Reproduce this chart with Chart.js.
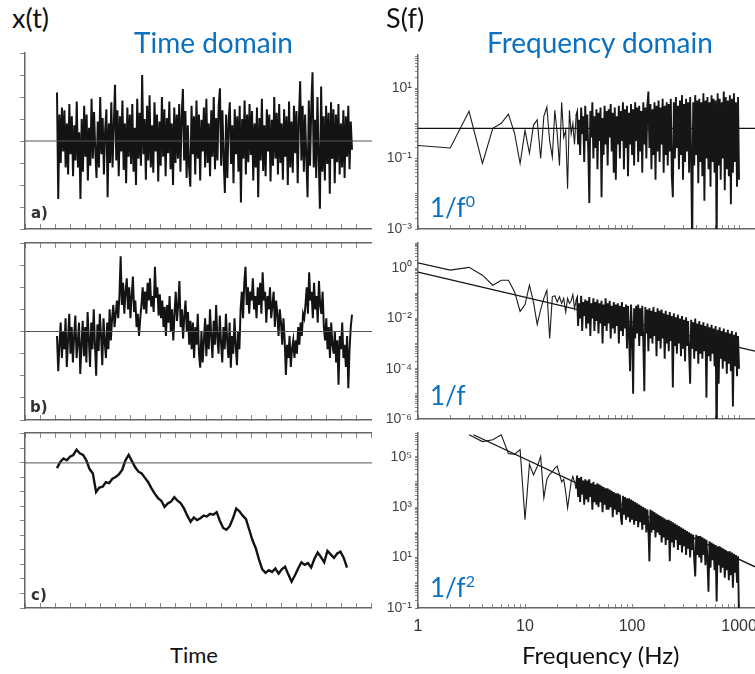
<!DOCTYPE html>
<html>
<head>
<meta charset="utf-8">
<script src="https://cdn.jsdelivr.net/npm/chart.js@4.4.0/dist/chart.umd.min.js"></script>
<style>
  body { margin: 0; width: 755px; height: 674px; overflow: hidden; background: #fff; position: relative; font-family: Lato, sans-serif; }
  canvas { position: absolute; }
  .t { position: absolute; white-space: nowrap; line-height: 1; }
  .blue { color: #0a70c0; }
  .sup { font-size: 16px; position: relative; top: -10px; }
  .pl { font-family: "DejaVu Sans"; font-weight: bold; font-size: 15px; color: #333; }
</style>
</head>
<body>

<canvas id="ta" width="372" height="185" style="left:0;top:50px"></canvas>
<canvas id="tb" width="372" height="187" style="left:0;top:239px"></canvas>
<canvas id="tc" width="372" height="185" style="left:0;top:429px"></canvas>
<canvas id="sa" width="380" height="194" style="left:375px;top:45px"></canvas>
<canvas id="sb" width="380" height="196" style="left:375px;top:233px"></canvas>
<canvas id="sc" width="380" height="215" style="left:375px;top:423px"></canvas>

<div class="t" style="left:12px;top:4px;font-size:27px;color:#111">x(t)</div>
<div class="t blue" style="left:134px;top:28px;font-size:28px">Time domain</div>
<div class="t" style="left:386px;top:4px;font-size:27px;color:#111">S(f)</div>
<div class="t blue" style="left:487px;top:28px;font-size:28px">Frequency domain</div>
<div class="t" style="left:170px;top:644px;font-size:22px;color:#111">Time</div>
<div class="t" style="left:522px;top:643px;font-size:24px;color:#111">Frequency (Hz)</div>
<div class="t blue" style="left:430px;top:194px;font-size:26px">1/f<span class="sup">0</span></div>
<div class="t blue" style="left:430px;top:382px;font-size:26px">1/f</div>
<div class="t blue" style="left:430px;top:574px;font-size:26px">1/f<span class="sup">2</span></div>
<div class="t pl" style="left:31px;top:206px">a)</div>
<div class="t pl" style="left:30px;top:400px">b)</div>
<div class="t pl" style="left:31px;top:588px">c)</div>

<script>
// ---- time series (arbitrary units, zero line = 0) ----
const seriesA = [
  55,-66,30,-25,38,-12,35,-30,20,-38,42,-15,28,-40,18,-22,45,-30,10,-66,
  25,-35,40,-18,30,-45,15,-28,48,-20,33,-10,-42,22,-30,50,-15,26,-38,12,
  36,-64,20,-25,44,-30,18,64,-22,35,-40,28,-12,46,-33,20,-48,38,-18,30,
  -26,42,-35,15,-50,48,-20,32,-28,75,-15,25,-44,40,-22,52,-30,18,-36,44,
  -12,30,-46,22,-28,50,-18,36,-40,26,-14,45,-32,20,-50,38,-25,30,-20,42,
  -35,28,59,-22,34,-42,18,-30,-52,40,-15,28,-38,46,-20,30,-45,24,-12,38,
  -30,48,-25,20,-40,35,-18,50,-32,26,-22,40,60,-28,35,-20,-59,30,-42,22,
  44,-26,18,-48,36,-15,28,-35,40,-70,25,-20,46,-38,30,-24,42,-16,34,-45,
  20,-30,38,-64,26,-22,48,-34,18,-40,36,-12,30,-46,24,-28,50,-20,32,-38,
  42,-25,20,-44,36,-18,28,-50,45,-30,22,-36,40,-14,34,-48,26,68,-22,40,
  -35,30,-20,-64,46,-28,38,78,-30,24,-42,50,-18,-77,62,-35,28,-45,40,-26,
  32,-60,44,-20,36,-48,30,-24,42,-38,20,-30,35,-42,28,-18,40,-32,22,-10
];
const seriesB = [
  -5,-45,-15,10,-30,0,-20,15,-40,-10,20,-25,5,-35,-5,18,-30,-12,10,-48,
  -15,12,-28,5,-35,22,-8,-40,10,-20,25,-15,-50,8,-22,20,-5,-38,15,-12,
  -30,10,-20,25,-10,15,30,5,20,35,15,40,
  85,30,55,20,45,60,25,50,15,40,62,22,35,5,20,-5,15,
  30,50,25,45,20,55,35,60,28,40,22,73,38,50,18,42,
  15,35,5,28,-5,30,10,40,0,25,-10,20,45,12,30,57,5,25,-8,18,35,0,22,-15,12,
  -20,10,-30,5,-15,20,-25,-41,0,-35,-10,15,-28,8,-20,25,-5,-30,12,-15,
  30,-8,-25,18,-12,-35,5,-20,20,-10,-30,10,-41,-5,-25,15,-15,-38,0,-20,
  25,45,15,55,73,30,50,20,45,35,60,25,40,15,50,30,55,20,67,35,
  45,10,40,25,50,15,30,45,5,35,20,-5,25,10,-15,15,-10,
  -49,-15,-30,-5,-40,-20,-10,-30,-10,-25,5,-15,10,-5,20,15,
  30,50,20,67,35,45,15,55,25,40,10,57,30,20,45,5,
  -10,15,-20,5,-30,10,-15,-25,0,-35,-10,-60,-5,-20,10,-30,-15,-40,-5,-64,-20,5,19
];
const seriesC = [
  -6,1,5,3,7,9,15,11,9,3,-7,-12,-33,-28,-27,-22,-23,-18,-16,-13,
  -8,3,9,2,-5,-10,-12,-17,-22,-29,-35,-40,-43,-50,-46,-44,-39,-43,-46,-52,
  -60,-67,-62,-65,-63,-60,-61,-58,-59,-56,-66,-74,-76,-72,-63,-52,-55,-60,-64,-76,
  -88,-97,-110,-121,-125,-122,-124,-120,-126,-121,-118,-127,-135,-128,-120,-113,-116,-114,-119,-109,
  -102,-107,-113,-100,-104,-108,-103,-101,-108,-119
];

// ---- spectra: frequency bins (Hz) and log10 S(f) ----
const freqLow = [1,2,3,4,5,6,7,8,9,10,11,12,13,14,15,16,17,18,19,20,21,22,23,24,25,26,27,28,29,30];
// dense part of the periodogram (30 Hz .. 1 kHz), bins on a log-spaced grid
const freqHigh = [];
for (let j = 1; j <= 160; j++) freqHigh.push(30 * Math.pow(1000 / 30, j / 160));

const specALow = [-0.63,-0.70,0.34,-1.14,-0.14,0.0,0.26,-0.29,-1.14,-0.2,-0.85,-0.05,0.1,-1.0,0.2,
  0.46,-0.5,-0.96,0.37,-0.3,-1.2,0.6,-0.4,-0.2,-1.86,0.37,-0.3,0.0,-0.6,0.2];
const specAHigh = [
  0.3,-0.6,0.1,-0.9,0.45,-0.3,0.2,-1.1,0.5,-0.5,
  0.25,-0.8,-2.26,0.35,-0.4,0.6,-1.0,0.2,-0.7,0.4,
  -1.3,0.3,-0.5,0.45,-2.1,0.15,-0.9,0.5,-0.6,0.35,
  -1.2,0.4,-0.4,0.55,-0.8,0.3,-1.4,0.45,-1.6,0.2,
  -0.6,0.5,-1.0,0.35,-0.5,0.6,-1.3,0.4,-0.7,0.5,
  -1.5,0.3,-0.6,0.55,-0.9,0.4,-1.2,0.6,-0.5,0.45,
  -1.1,0.5,-0.8,0.35,-1.4,0.6,-0.6,0.45,-1.0,0.5,
  0.9,-0.7,0.55,-1.3,0.4,-0.9,0.6,-1.6,0.5,-0.8,
  0.65,-1.1,0.45,-0.6,0.7,-1.4,0.5,-0.9,0.6,-1.2,
  0.55,-0.8,0.7,-1.5,-2.1,0.6,-1.0,0.75,-0.7,0.5,
  -1.3,0.65,-0.9,0.8,-1.6,0.55,-1.1,0.7,-0.8,0.6,
  -1.4,0.75,-1.0,-3.5,0.6,-1.2,0.8,-0.9,0.65,-1.7,
  0.7,-1.1,0.6,-1.5,0.85,-2.2,0.65,-1.0,0.75,-1.3,
  0.6,-1.8,0.8,-1.1,0.7,-1.4,0.65,-3.5,0.85,-1.2,
  0.7,-1.6,0.6,-1.0,0.9,-1.9,0.75,-1.3,0.65,-1.5,
  0.8,-2.3,0.7,-1.4,0.85,-1.1,0.6,-1.8,0.75,-1.6
];
const specBLow = [0.21,-0.08,0.03,-0.28,-0.68,-0.48,-0.48,-0.95,-1.72,-1.45,-0.68,-1.35,-2.24,-1.65,-1.2,
  -0.88,-2.8,-1.14,-1.1,-1.35,-1.14,-1.4,-1.2,-1.75,-1.2,-1.4,-1.3,-1.05,-1.6,-1.3];
const specBHigh = [
  -1.2,-2.3,-1.4,-2.0,-1.1,-2.5,-1.35,-1.9,-1.25,-2.4,
  -1.3,-2.2,-1.15,-2.7,-1.4,-2.0,-1.2,-2.5,-1.35,-2.1,
  -1.25,-2.6,-1.4,-2.2,-1.3,-3.0,-1.45,-2.3,-1.2,-2.5,
  -1.4,-2.2,-1.3,-2.8,-1.5,-2.4,-1.35,-2.6,-1.45,-2.3,
  -1.4,-3.0,-1.5,-2.5,-1.35,-2.7,-1.55,-2.4,-1.45,-3.2,
  -1.5,-2.6,-4.1,-1.45,-2.5,-5.0,-1.6,-2.8,-1.5,-2.6,
  -1.45,-3.1,-1.6,-2.7,-1.5,-2.9,-4.9,-1.55,-2.6,-1.65,
  -3.3,-1.6,-2.8,-1.7,-3.0,-1.55,-2.7,-1.75,-3.5,-1.6,
  -2.9,-1.7,-3.2,-1.65,-2.8,-1.8,-3.6,-1.7,-3.0,-1.85,
  -3.3,-1.75,-2.9,-1.9,-4.75,-1.8,-3.1,-1.95,-3.4,-1.85,
  -3.0,-2.0,-3.5,-1.9,-3.2,-2.05,-3.7,-1.95,-3.1,-2.1,
  -3.4,-4.6,-2.05,-3.2,-2.15,-3.6,-2.0,-3.3,-2.2,-3.8,
  -2.1,-3.4,-2.25,-3.6,-2.15,-3.3,-2.3,-5.15,-2.2,-3.5,
  -2.35,-3.7,-2.25,-3.4,-2.4,-3.9,-2.3,-7.0,-2.45,-4.6,
  -2.35,-3.6,-2.5,-4.0,-2.4,-3.7,-2.55,-4.2,-2.45,-3.8,
  -2.6,-4.1,-2.5,-5.5,-2.65,-3.9,-2.55,-4.3,-2.7,-4.0
];
// panel c starts at 3 Hz
const specCLow = [5.87,5.6,5.67,5.87,5.12,5.1,5.28,2.5,4.7,4.28,4.6,5.01,3.37,4.1,4.3,
  4.4,4.55,4.62,4.3,4.0,4.1,3.6,2.97,3.5,4.0,4.22,4.0,3.74];
const specCHigh = [
  4.25,3.4,4.15,3.2,4.2,3.5,4.05,3.1,4.1,3.3,
  4.05,3.2,4.1,3.4,3.95,2.9,4.0,3.2,3.9,3.1,
  3.95,3.0,3.9,3.2,3.85,2.8,3.8,3.1,3.75,2.9,
  3.75,2.9,3.7,3.0,3.65,2.6,3.6,2.9,3.55,2.7,
  3.55,2.8,3.5,2.6,2.3,3.45,2.7,3.4,2.5,3.35,
  2.6,3.35,2.4,3.3,2.5,3.25,2.3,3.2,2.45,3.15,
  2.2,3.1,2.4,3.05,2.1,3.0,2.3,2.95,2.0,2.9,
  2.2,0.85,2.9,2.0,2.85,2.1,2.8,1.8,2.75,2.0,
  2.7,1.9,2.65,1.6,2.6,1.8,2.55,1.5,2.5,1.7,
  2.5,0.85,2.45,1.6,2.4,1.4,2.35,1.7,2.3,1.3,
  2.25,1.5,2.2,1.2,2.15,1.45,2.1,1.1,2.05,1.35,
  2.0,1.0,1.95,1.3,1.9,0.9,0.25,1.9,1.1,1.85,
  1.0,1.85,0.8,1.8,1.1,1.75,0.7,1.7,0.9,-0.35,
  1.65,0.6,1.6,0.9,1.55,0.5,1.5,-0.74,1.45,0.7,
  1.45,0.4,1.4,0.6,1.35,0.2,1.3,0.5,1.25,0.1,
  1.25,0.3,1.2,-0.2,1.15,0.4,1.1,0.0,1.05,-1.5
];

// reference lines: white level, 1/f and 1/f^2 fits
const flatAFreq = [1, 1410], flatAVal = [0.72, 0.72];
const fitBFreq = [1, 1410], fitBVal = [0.7, 0.000496];
const fitCFreq = [3.3, 1410], fitCVal = [740000, 4.3];

Chart.defaults.font.family = 'Liberation Sans';
Chart.defaults.animation = false;
Chart.defaults.events = [];

const noPlugins = { legend: { display: false }, tooltip: { enabled: false } };

function timeChart(id, vals, x0, x1, yMin, yMax, yStep, withTop, lw) {
  const n = vals.length;
  const ppu = (x1 - x0) / (n - 1);
  const xMin = -(x0 - 25) / ppu, xMax = xMin + 347 / ppu;
  const xTicks = [];
  for (let k = 0; k <= 23; k++) xTicks.push({ value: xMin + k * (xMax - xMin) / 23 });
  const yTicks = [];
  for (let v = yMin; v <= yMax + 1e-6; v += 0.5) {
    if (Math.abs(v / yStep - Math.round(v / yStep)) < 0.02) yTicks.push({ value: v });
  }
  const xAxis = {
    type: 'linear', min: xMin, max: xMax,
    ticks: { display: false },
    grid: { drawOnChartArea: false, tickLength: -5, color: '#888' },
    border: { color: '#666', width: 1.5 },
    afterBuildTicks: s => { s.ticks = xTicks.slice(); },
    afterFit: s => { s.height = 6; s.paddingLeft = 0; s.paddingRight = 0; }
  };
  const scales = {
    x: xAxis,
    y: {
      type: 'linear', min: yMin, max: yMax,
      ticks: { display: false },
      grid: { drawOnChartArea: false, tickLength: 5, color: '#888' },
      border: { color: '#666', width: 1.5 },
      afterBuildTicks: s => { s.ticks = yTicks.slice(); },
      afterFit: s => { s.width = 25; s.paddingTop = 0; s.paddingBottom = 0; }
    }
  };
  if (withTop) {
    scales.x2 = Object.assign({}, xAxis, { axis: 'x', position: 'top',
      afterFit: s => { s.height = 4; s.paddingLeft = 0; s.paddingRight = 0; } });
  }
  new Chart(document.getElementById(id), {
    type: 'line',
    data: {
      datasets: [
        { data: [{ x: xMin, y: 0 }, { x: xMax, y: 0 }], borderColor: '#555', borderWidth: 1 },
        { data: vals.map((v, i) => ({ x: i, y: v })), borderColor: '#131313', borderWidth: lw }
      ]
    },
    options: {
      responsive: false,
      layout: { padding: { top: withTop ? 0 : 3, left: 0, right: 0, bottom: 0 } },
      elements: { point: { radius: 0 }, line: { tension: 0 } },
      plugins: noPlugins,
      scales: scales
    }
  });
}

const supMap = { '0': '⁰', '1': '¹', '2': '²', '3': '³', '4': '⁴', '5': '⁵', '6': '⁶', '7': '⁷', '8': '⁸', '9': '⁹', '-': '⁻' };
function pow10Label(e) { return '10' + String(e).split('').map(c => supMap[c]).join(''); }

function logTicks(minV, maxV) {
  const t = [];
  const e0 = Math.floor(Math.log10(minV) + 1e-9), e1 = Math.ceil(Math.log10(maxV));
  for (let e = e0; e <= e1; e++) {
    for (let m = 1; m <= 9; m++) {
      const v = m * Math.pow(10, e);
      if (v >= minV * 0.9999 && v <= maxV * 1.0001) t.push({ value: v });
    }
  }
  return t;
}
function expOf(v) {
  const l = Math.log10(v);
  return Math.abs(l - Math.round(l)) < 1e-6 ? Math.round(l) : null;
}

function toPts(freqs, logs) { return logs.map((l, i) => ({ x: freqs[i], y: Math.pow(10, l) })); }
function toLin(freqs, vals) { return vals.map((v, i) => ({ x: freqs[i], y: v })); }

function specChart(id, lowF, low, high, fitF, fitV, yMin, yMax, yLabels, xLabels, topPad, xH) {
  const xMin = 1, xMax = 1410;
  const xT = logTicks(xMin, 1000), yT = logTicks(yMin, yMax);
  const lowPts = toPts(lowF, low);
  new Chart(document.getElementById(id), {
    type: 'line',
    data: {
      datasets: [
        { data: lowPts, borderColor: '#1c1c1c', borderWidth: 1.1 },
        // the dense high-frequency part, continuing from the last low bin
        { data: [lowPts[lowPts.length - 1]].concat(toPts(freqHigh, high)), borderColor: '#161616', borderWidth: 1.9 },
        { data: toLin(fitF, fitV), borderColor: '#111', borderWidth: 1.3 }
      ]
    },
    options: {
      responsive: false,
      layout: { padding: { top: topPad, left: 0, right: 0, bottom: 0 } },
      elements: { point: { radius: 0 }, line: { tension: 0 } },
      plugins: noPlugins,
      scales: {
        x: {
          type: 'logarithmic', min: xMin, max: xMax,
          ticks: {
            display: xLabels, autoSkip: false, maxRotation: 0, padding: 13,
            color: '#333', font: { size: 16 },
            callback: v => { const e = expOf(v); return e === null ? '' : String(Math.pow(10, e)); }
          },
          grid: { drawOnChartArea: false, tickLength: -4, color: '#888' },
          border: { color: '#666', width: 1.5 },
          afterBuildTicks: s => { s.ticks = xT.slice(); },
          afterFit: s => { s.height = xH; s.paddingLeft = 0; s.paddingRight = 0; }
        },
        y: {
          type: 'logarithmic', min: yMin, max: yMax,
          ticks: {
            autoSkip: false, padding: 3, color: '#444', font: { size: 14 },
            callback: v => { const e = expOf(v); return (e !== null && yLabels.includes(e)) ? pow10Label(e) : ''; }
          },
          grid: { drawOnChartArea: false, tickLength: 3, color: '#888' },
          border: { color: '#666', width: 1.5 },
          afterBuildTicks: s => { s.ticks = yT.slice(); },
          afterFit: s => { s.width = 43; s.paddingTop = 0; s.paddingBottom = 0; }
        }
      }
    }
  });
}

timeChart('ta', seriesA, 57, 352, -100, 100, 25, false, 2.0);
timeChart('tb', seriesB, 57, 352, -100, 100, 25, true, 2.0);
timeChart('tc', seriesC, 57, 347, -165, 34, 16.5, true, 2.4);

specChart('sa', freqLow, specALow, specAHigh, flatAFreq, flatAVal, 0.001, 87, [1, -1, -3], false, 10, 10);
specChart('sb', freqLow, specBLow, specBHigh, fitBFreq, fitBVal, 0.000001, 10, [0, -2, -4, -6], false, 10, 10);
specChart('sc', freqLow.slice(2), specCLow, specCHigh, fitCFreq, fitCVal, 0.1, 870000, [5, 3, 1, -1], true, 10, 30);
</script>
</body>
</html>
